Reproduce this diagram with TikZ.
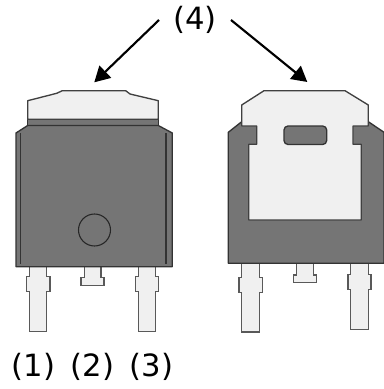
\documentclass[tikz,border=0pt]{standalone}
\usepackage{fontspec}
\setmainfont{DejaVu Sans}
\usetikzlibrary{arrows.meta}
\tikzset{
  bodyshape/.style={draw=black!80,fill=black!54,line width=1pt,line join=round},
  tabshape/.style={draw=black!75,fill=black!6,line width=1pt,line join=round},
  leadshape/.style={draw=black!65,fill=black!6,line width=1pt},
  seamline/.style={draw=black!80,line width=1.1pt},
  pinlabel/.style={font=\fontsize{23}{26}\selectfont,inner sep=0pt},
  callout/.style={-{Triangle[length=11.5pt,width=12.5pt]},line width=1.6pt},
}
\begin{document}
\begin{tikzpicture}[x=0.75pt,y=-0.75pt]
  \useasboundingbox (0,0) rectangle (383,389);
  \coordinate (fronttarget) at (94.3,82.3);
  \coordinate (backtarget) at (307.3,82);
  \node[pinlabel,inner xsep=10.5pt] (four) at (195,20) {(4)};
  \node[pinlabel] (pinone) at (33.5,367) {(1)};
  \node[pinlabel] (pintwo) at (92.5,367) {(2)};
  \node[pinlabel] (pinthree) at (151.5,367) {(3)};
  \begin{scope}[callout]
    \draw (four.west) to (fronttarget);
    \draw (four.east) to (backtarget);
  \end{scope}
  \draw[leadshape] (29.3,266) -- (29.3,276.7) -- (26.7,276.7) -- (26.7,291.7) -- (29.3,291.7)
    -- (29.3,331.7) -- (46.7,331.7) -- (46.7,291.7) -- (50,291.7) -- (50,276.7) -- (46.7,276.7) -- (46.7,266) -- cycle;
  \draw[leadshape] (84.3,266) -- (84.3,277.3) -- (81,277.3) -- (81,285.3) -- (104,285.3)
    -- (104,277.3) -- (101,277.3) -- (101,266) -- cycle;
  \draw[leadshape] (138.3,266) -- (138.3,276.7) -- (135.7,276.7) -- (135.7,291.7) -- (138.3,291.7)
    -- (138.3,331.7) -- (155.7,331.7) -- (155.7,291.7) -- (158.3,291.7) -- (158.3,276.7) -- (155.7,276.7) -- (155.7,266) -- cycle;
  \draw[bodyshape] (27.7,119.3) rectangle (158.3,126);
  \draw[bodyshape] (27.7,125.5) -- (16,133) -- (16,266.7) -- (172.3,266.7) -- (172.3,133) -- (158.3,125.5) -- cycle;
  \draw[seamline] (20.5,133) -- (20.5,264);
  \draw[seamline] (166,133) -- (166,264);
  \draw[tabshape] (27.7,100.7) -- (56.7,93.3) -- (62.3,90.7) -- (125.7,90.7) -- (130,94)
    -- (158.3,100.7) -- (158.3,119.3) -- (27.7,119.3) -- cycle;
  \node[circle,draw=black!85,line width=0.8pt,minimum size=24pt,inner sep=0pt] (mark) at (94.5,230) {};
  \draw[leadshape] (241.7,263) -- (241.7,277.3) -- (239,277.3) -- (239,292.3) -- (241.7,292.3)
    -- (241.7,332) -- (259.3,332) -- (259.3,292.3) -- (262.3,292.3) -- (262.3,277.3) -- (259.3,277.3) -- (259.3,263) -- cycle;
  \draw[leadshape] (296.3,263) -- (296.3,275) -- (293.7,275) -- (293.7,282.7) -- (316.3,282.7)
    -- (316.3,275) -- (313.7,275) -- (313.7,263) -- cycle;
  \draw[leadshape] (350.7,263) -- (350.7,274.7) -- (348,274.7) -- (348,289.3) -- (350.7,289.3)
    -- (350.7,329.3) -- (368.3,329.3) -- (368.3,289.3) -- (371,289.3) -- (371,274.7) -- (368.3,274.7) -- (368.3,263) -- cycle;
  \draw[bodyshape] (241.7,121.7) -- (228.3,132.3) -- (228.3,263.3) -- (384,263.3) -- (384,132.3) -- (368.3,121.7) -- cycle;
  \draw[tabshape] (241.7,105) -- (264,90.7) -- (345,90.7) -- (368.3,105) -- (368.3,126) -- (353,126) -- (353,144.3)
    -- (361.3,144.3) -- (361.3,220) -- (248.7,220) -- (248.7,144.3) -- (256.7,144.3) -- (256.7,126) -- (241.7,126) -- cycle;
  \draw[bodyshape,rounded corners=3pt] (284,126) rectangle (326.7,144.5);
\end{tikzpicture}
\end{document}
